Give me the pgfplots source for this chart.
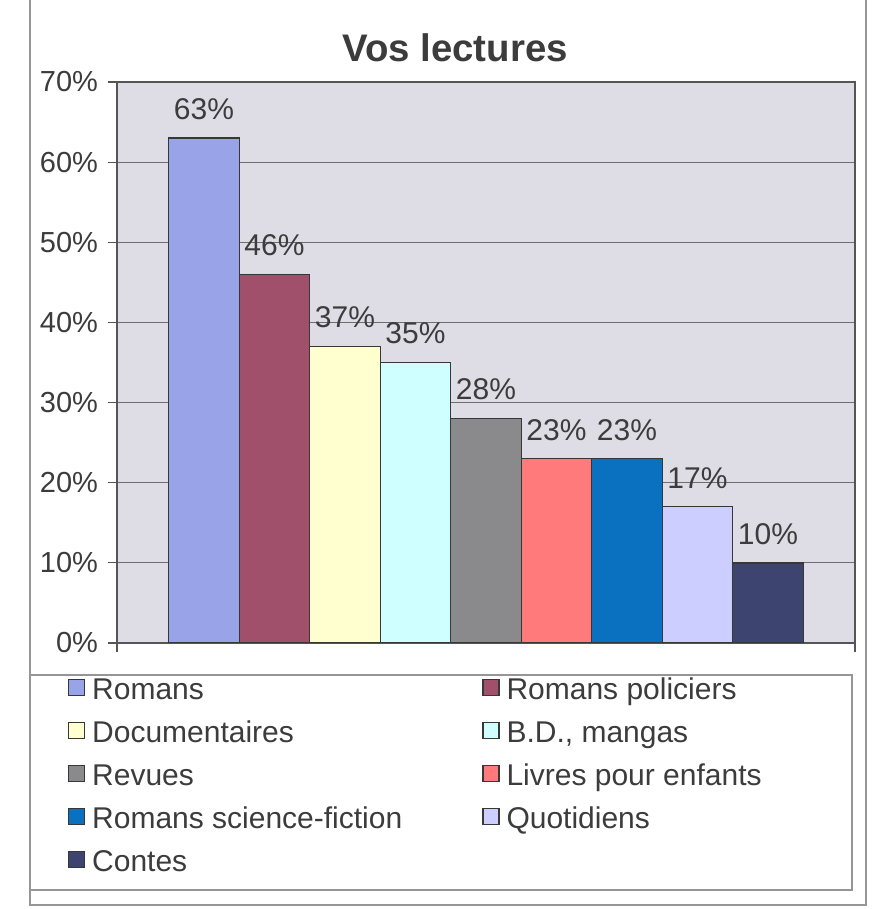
\documentclass[border=0pt]{standalone}
\usepackage{fontspec}
\setmainfont{Liberation Sans}
\usepackage{pgfplots}
\pgfplotsset{compat=1.18}
\definecolor{c1}{RGB}{153,163,232}
\definecolor{c2}{RGB}{160,80,106}
\definecolor{c3}{RGB}{255,255,208}
\definecolor{c4}{RGB}{208,255,255}
\definecolor{c5}{RGB}{138,138,140}
\definecolor{c6}{RGB}{255,122,122}
\definecolor{c7}{RGB}{10,112,192}
\definecolor{c8}{RGB}{204,206,255}
\definecolor{c9}{RGB}{62,68,112}
\definecolor{txt}{RGB}{60,60,60}
\definecolor{axc}{RGB}{85,85,85}
\definecolor{gridc}{RGB}{110,110,110}
\definecolor{bgc}{RGB}{222,220,228}
\definecolor{barline}{RGB}{55,55,55}
\definecolor{frame}{RGB}{150,150,150}
\begin{document}
\begin{tikzpicture}
\useasboundingbox (0,0) rectangle (437pt,454.5pt);
\fill[white] (0,0) rectangle (437pt,454.5pt);
\draw[frame, line width=0.6pt] (15pt,454.5pt) -- (15pt,2pt) -- (433pt,2pt) -- (433pt,454.5pt);
\draw[frame, line width=0.6pt, fill=white] (15pt,9.5pt) rectangle (426pt,117pt);
\node[font=\bfseries\fontsize{19.2}{22}\selectfont, text=txt] at (227.5pt,430.5pt) {Vos lectures};
\begin{axis}[
  at={(58.5pt,133pt)}, anchor=south west, scale only axis,
  width=369pt, height=280.5pt,
  xmin=-0.5, xmax=0.5, ymin=0, ymax=70,
  ybar=0pt, bar width=35.25pt,
  ytick={0,10,...,70},
  yticklabel={\pgfmathprintnumber{\tick}\%},
  /pgf/number format/assume math mode=true,
  xtick={-0.5,0.5}, xticklabels={},
  xtick pos=bottom, ytick pos=left,
  tick align=outside, major tick length=4.5pt,
  tick style={color=axc, line width=0.6pt},
  ymajorgrids, grid style={gridc, line width=0.5pt},
  axis background/.style={fill=bgc},
  axis line style={axc, line width=0.6pt},
  tick label style={font=\fontsize{14.5}{16}\selectfont, text=txt},
  yticklabel style={xshift=-1.5pt},
  every axis plot/.append style={draw=barline, line width=0.7pt},
  nodes near coords={\pgfmathprintnumber[precision=0,assume math mode=true]{\pgfplotspointmeta}\%},
  nodes near coords style={font=\fontsize{15}{18}\selectfont, text=txt, yshift=5.5pt},
  legend columns=2, legend cell align=left,
  legend image code/.code={\draw[#1,line width=0.6pt] (0pt,-1.5pt) rectangle (8pt,6.5pt);},
  legend style={draw=none, fill=none, at={(axis description cs:-0.0664,-0.0588)}, anchor=north west,
    inner sep=0pt, outer sep=0pt, row sep=5pt,
    /tikz/every even column/.append style={column sep=36.5pt},
    nodes={font=\fontsize{15}{18}\selectfont, text=txt, inner xsep=3.5pt, inner ysep=1pt, text height=11pt, text depth=3.5pt}},
]
\addplot[fill=c1] coordinates {(0,63)}; \addlegendentry{Romans}
\addplot[fill=c2] coordinates {(0,46)}; \addlegendentry{Romans policiers}
\addplot[fill=c3] coordinates {(0,37)}; \addlegendentry{Documentaires}
\addplot[fill=c4] coordinates {(0,35)}; \addlegendentry{B.D., mangas}
\addplot[fill=c5] coordinates {(0,28)}; \addlegendentry{Revues}
\addplot[fill=c6] coordinates {(0,23)}; \addlegendentry{Livres pour enfants}
\addplot[fill=c7] coordinates {(0,23)}; \addlegendentry{Romans science-fiction}
\addplot[fill=c8] coordinates {(0,17)}; \addlegendentry{Quotidiens}
\addplot[fill=c9] coordinates {(0,10)}; \addlegendentry{Contes}
\end{axis}
\end{tikzpicture}
\end{document}
